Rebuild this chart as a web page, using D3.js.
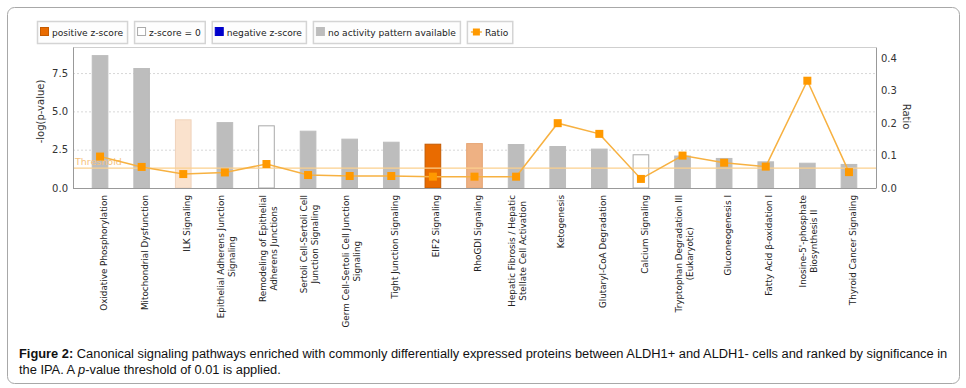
<!DOCTYPE html>
<html>
<head>
<meta charset="utf-8">
<script src="https://cdn.jsdelivr.net/npm/d3@7"></script>
<style>
  body { margin: 0; background: #fff; }
  svg { display: block; }
  .axis text { font-family: "DejaVu Sans", sans-serif; font-size: 10px; fill: #333; }
  .axis path { stroke: #999; }
</style>
</head>
<body>
<div id="chart"></div>
<script>
// pathways, ranked by significance
const pathways = [
    ["Oxidative Phosphorylation"],
    ["Mitochondrial Dysfunction"],
    ["ILK Signaling"],
    ["Epithelial Adherens Junction", "Signaling"],
    ["Remodeling of Epithelial", "Adherens Junctions"],
    ["Sertoli Cell-Sertoli Cell", "Junction Signaling"],
    ["Germ Cell-Sertoli Cell Junction", "Signaling"],
    ["Tight Junction Signaling"],
    ["EIF2 Signaling"],
    ["RhoGDI Signaling"],
    ["Hepatic Fibrosis / Hepatic", "Stellate Cell Activation"],
    ["Ketogenesis"],
    ["Glutaryl-CoA Degradation"],
    ["Calcium Signaling"],
    ["Tryptophan Degradation III", "(Eukaryotic)"],
    ["Gluconeogenesis I"],
    ["Fatty Acid \u03b2-oxidation I"],
    ["Inosine-5'-phosphate", "Biosynthesis II"],
    ["Thyroid Cancer Signaling"]
];
const negLogP = [8.67, 7.83, 4.48, 4.3, 4.09, 3.74, 3.22, 3.02, 2.89, 2.93, 2.87, 2.74, 2.57, 2.2, 2.12, 1.96, 1.74, 1.65, 1.57];
const ratio = [0.097, 0.065, 0.043, 0.048, 0.074, 0.040, 0.037, 0.037, 0.035, 0.035, 0.035, 0.2, 0.167, 0.028, 0.1, 0.078, 0.066, 0.331, 0.049];
// z-score class: "none" = no activity pattern, "zero", "pos1" (weak), "pos2", "pos3" (strong)
const zClass = ["none", "none", "pos1", "none", "zero", "none", "none", "none", "pos3", "pos2", "none", "none", "none", "zero", "none", "none", "none", "none", "none"];
const threshold = 1.3;
const leftTicks = [0, 2.5, 5, 7.5];
const rightTicks = [0, 0.1, 0.2, 0.3, 0.4];
const legendItems = ["positive z-score", "z-score = 0", "negative z-score", "no activity pattern available", "Ratio"];

const fills = { none: "#bdbdbd", zero: "#ffffff", pos1: "#fae2cd", pos2: "#eeb183", pos3: "#e96b00", neg: "#0000cc" };
const strokes = { none: "#bdbdbd", zero: "#aaaaaa", pos1: "#efd3bb", pos2: "#e6a574", pos3: "#c45a00", neg: "#0000cc" };

const W = 966, H = 388;
const plot = { left: 73, right: 876, top: 47, bottom: 188 };

const svg = d3.select("#chart").append("svg").attr("width", W).attr("height", H);

// outer figure box
svg.append("rect")
    .attr("x", 7.5).attr("y", 7.5)
    .attr("width", 952).attr("height", 376)
    .attr("rx", 7).attr("ry", 7)
    .style("fill", "#fff").style("stroke", "#a8a8a8");

const x = d3.scaleBand()
    .domain(pathways.map((d, i) => i))
    .range([plot.left, plot.right])
    .paddingInner(0.6)
    .paddingOuter(0.45);
const yL = d3.scaleLinear().domain([0, 9.2]).range([plot.bottom, plot.top]);
const yR = d3.scaleLinear().domain([0, 0.435]).range([plot.bottom, plot.top]);

// grid
svg.append("g").selectAll("line")
    .data(leftTicks.slice(1))
    .join("line")
    .attr("x1", plot.left).attr("x2", plot.right)
    .attr("y1", d => yL(d) + 0.5).attr("y2", d => yL(d) + 0.5)
    .style("stroke", "#d8d8d8").style("stroke-dasharray", "2,2");

// top frame line
svg.append("line")
    .attr("x1", plot.left).attr("x2", plot.right)
    .attr("y1", plot.top + 0.5).attr("y2", plot.top + 0.5)
    .style("stroke", "#cfcfcf");

// bars
svg.append("g").selectAll("rect")
    .data(negLogP)
    .join("rect")
    .attr("x", (d, i) => x(i) + 0.5)
    .attr("y", d => yL(d) + 0.5)
    .attr("width", x.bandwidth() - 1)
    .attr("height", d => plot.bottom - yL(d) - 0.5)
    .style("fill", (d, i) => fills[zClass[i]])
    .style("stroke", (d, i) => strokes[zClass[i]]);

// threshold
svg.append("line")
    .attr("x1", plot.left).attr("x2", plot.right)
    .attr("y1", yL(threshold)).attr("y2", yL(threshold))
    .style("stroke", "#fbd08e").style("stroke-width", 1.2);
svg.append("text")
    .attr("x", plot.left + 2).attr("y", yL(threshold) - 3)
    .style("font-family", "DejaVu Sans, sans-serif").style("font-size", "9.5px")
    .style("fill", "#f6c27c")
    .text("Threshold");

// ratio line
const cx = i => x(i) + x.bandwidth() / 2;
svg.append("path")
    .datum(ratio)
    .attr("d", d3.line().x((d, i) => cx(i)).y(d => yR(d)))
    .style("fill", "none").style("stroke", "#f7b141").style("stroke-width", 1.5);
svg.append("g").selectAll("rect")
    .data(ratio)
    .join("rect")
    .attr("x", (d, i) => cx(i) - 4)
    .attr("y", d => yR(d) - 4)
    .attr("width", 8).attr("height", 8)
    .style("fill", "#ff9900");

// axes
svg.append("g").attr("class", "axis")
    .attr("transform", `translate(${plot.left},0)`)
    .call(d3.axisLeft(yL).tickValues(leftTicks).tickFormat(d3.format(".1f")).tickSize(0).tickPadding(5));
svg.append("g").attr("class", "axis")
    .attr("transform", `translate(${plot.right},0)`)
    .call(d3.axisRight(yR).tickValues(rightTicks).tickFormat(d3.format(".1f")).tickSize(0).tickPadding(5));
svg.append("line")
    .attr("x1", plot.left).attr("x2", plot.right)
    .attr("y1", plot.bottom + 0.5).attr("y2", plot.bottom + 0.5)
    .style("stroke", "#999");

svg.append("text")
    .attr("transform", `translate(44,${(plot.top + plot.bottom) / 2 - 6}) rotate(-90)`)
    .attr("text-anchor", "middle")
    .style("font-family", "DejaVu Sans, sans-serif").style("font-size", "10px").style("fill", "#333")
    .text("-log(p-value)");
svg.append("text")
    .attr("transform", `translate(903,${(plot.top + plot.bottom) / 2 - 1}) rotate(90)`)
    .attr("text-anchor", "middle")
    .style("font-family", "DejaVu Sans, sans-serif").style("font-size", "10px").style("fill", "#333")
    .text("Ratio");

// category labels, rotated, top-aligned, lines centered in the block
const labelTop = 195;
pathways.forEach((lines, i) => {
    const g = svg.append("g");
    const texts = lines.map((s, j) => g.append("text")
        .style("font-family", "DejaVu Sans, sans-serif").style("font-size", "8.8px").style("fill", "#222")
        .attr("text-anchor", "middle")
        .attr("dy", "0.35em")
        .text(s));
    const maxW = d3.max(texts, t => t.node().getComputedTextLength());
    const c = cx(i) + (lines.length > 1 ? 1.5 : 3.5);
    texts.forEach((t, j) => {
        const off = (j - (lines.length - 1) / 2) * 11;
        t.attr("transform", `translate(${c + off},${labelTop + maxW / 2}) rotate(-90)`);
    });
});

// legend
let lx = 37;
legendItems.forEach((name, i) => {
    const g = svg.append("g");
    const box = g.append("rect")
        .attr("y", 21.5).attr("height", 22)
        .style("fill", "#fdfdfd").style("stroke", "#d4d4d4").style("stroke-width", 1.5);
    const isRatio = name === "Ratio";
    const tx = lx + (isRatio ? 18 : 15);
    const t = g.append("text")
        .attr("x", tx).attr("y", 35.5)
        .style("font-family", "DejaVu Sans, sans-serif").style("font-size", "9.1px").style("fill", "#222")
        .text(name);
    const tw = t.node().getComputedTextLength();
    box.attr("x", lx + 0.5).attr("width", tx - lx + tw + 4);
    if (isRatio) {
        g.append("line").attr("x1", lx + 4).attr("x2", lx + 15).attr("y1", 32).attr("y2", 32)
            .style("stroke", "#f7b141").style("stroke-width", 1.5);
        g.append("rect").attr("x", lx + 6).attr("y", 28.5).attr("width", 7).attr("height", 7).style("fill", "#ff9900");
    } else {
        const key = ["pos3", "zero", "neg", "none"][i];
        g.append("rect").attr("x", lx + 3.5).attr("y", 27.5).attr("width", 8).attr("height", 8)
            .style("fill", fills[key]).style("stroke", strokes[key]);
    }
    lx += tx - lx + tw + 4 + 7;
});

// caption
const cap = svg.append("g")
    .style("font-family", "Liberation Sans, Arial, sans-serif").style("font-size", "12.85px").style("fill", "#111");
const c1 = cap.append("text").attr("x", 19).attr("y", 358);
c1.append("tspan").style("font-weight", "bold").text("Figure 2:");
c1.append("tspan").text(" Canonical signaling pathways enriched with commonly differentially expressed proteins between ALDH1+ and ALDH1- cells and ranked by significance in");
const c2 = cap.append("text").attr("x", 19).attr("y", 374);
c2.append("tspan").text("the IPA. A ");
c2.append("tspan").style("font-style", "italic").text("p");
c2.append("tspan").text("-value threshold of 0.01 is applied.");
</script>
</body>
</html>
